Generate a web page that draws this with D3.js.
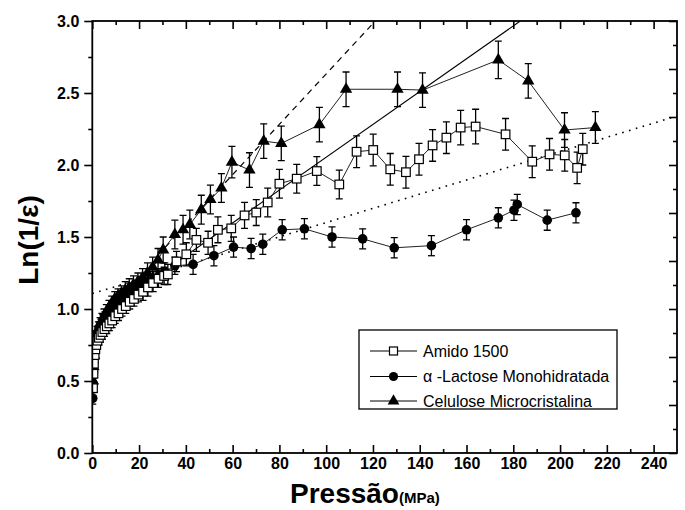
<!DOCTYPE html>
<html><head><meta charset="utf-8">
<script src="https://cdn.jsdelivr.net/npm/d3@7"></script>
<style>body{margin:0;background:#fff}svg{display:block}text{font-family:"Liberation Sans",Arial,sans-serif}</style>
</head><body><svg id="c" width="685" height="510"></svg>
<script>
// ---- data ----
const xTicks = [0,20,40,60,80,100,120,140,160,180,200,220,240];
const yTicks = [0.0,0.5,1.0,1.5,2.0,2.5,3.0];
const seriesNames = ["Amido 1500","\u03b1 -Lactose Monohidratada","Celulose Microcristalina"];

const amidoX = [0.3,0.5,0.7,1.0,1.3,1.7,2.2,2.8,3.5,4.3,5.2,6.2,7.3,8.5,9.8,11.2,12.7,14.3,16,17.8,19.7,21.7,23.8,26,28.3,30.7,32.3,36,40.2,44.5,49.5,53.7,59.4,65.1,70.1,75,80,87.4,96,105.6,113,120.1,127.4,134.1,139.7,145.5,151.4,157.5,163.9,176.7,188.1,195.5,202,207.3,209.7];
const amidoY = [0.45,0.55,0.62,0.68,0.72,0.75,0.78,0.80,0.82,0.84,0.86,0.88,0.90,0.92,0.95,0.97,1.00,1.02,1.05,1.07,1.10,1.12,1.15,1.18,1.21,1.23,1.24,1.33,1.38,1.48,1.46,1.55,1.56,1.65,1.67,1.74,1.87,1.905,1.958,1.865,2.092,2.104,1.97,1.95,2.04,2.136,2.19,2.26,2.267,2.213,2.023,2.074,2.067,1.98,2.11];
const amidoErr = [0.05,0.05,0.05,0.05,0.05,0.05,0.05,0.05,0.05,0.05,0.05,0.05,0.05,0.05,0.05,0.05,0.05,0.05,0.05,0.05,0.05,0.06,0.06,0.06,0.06,0.06,0.07,0.07,0.08,0.08,0.08,0.09,0.09,0.09,0.09,0.1,0.1,0.1,0.1,0.1,0.11,0.11,0.11,0.11,0.11,0.11,0.11,0.12,0.12,0.11,0.11,0.11,0.11,0.11,0.11];

const lactoseX = [0.2,0.35,0.5,0.7,0.9,1.2,1.5,1.9,2.4,3.0,3.7,4.5,5.4,6.4,7.5,8.7,10,11.4,12.9,14.5,16.2,18,19.9,21.9,24,26.2,28.5,31,35.3,43.1,52,60.4,67.9,72.9,81.2,90.7,102.5,115.6,129.1,145,160,173.6,180.3,181.7,194.5,206.8];
const lactoseY = [0.38,0.48,0.56,0.63,0.69,0.74,0.78,0.81,0.84,0.87,0.89,0.92,0.94,0.96,0.99,1.01,1.03,1.05,1.07,1.09,1.11,1.13,1.15,1.17,1.19,1.21,1.23,1.26,1.30,1.31,1.37,1.43,1.42,1.45,1.55,1.557,1.50,1.487,1.425,1.44,1.55,1.633,1.686,1.726,1.617,1.668];
const lactoseErr = [0.04,0.04,0.04,0.04,0.04,0.04,0.04,0.04,0.04,0.04,0.04,0.04,0.04,0.04,0.04,0.04,0.04,0.05,0.05,0.05,0.05,0.05,0.05,0.05,0.05,0.05,0.05,0.06,0.06,0.07,0.07,0.07,0.07,0.07,0.07,0.07,0.07,0.07,0.07,0.07,0.07,0.07,0.07,0.07,0.07,0.07];

const celuloseX = [0.3,0.5,0.8,1.1,1.5,2.0,2.6,3.3,4.1,5.0,6.0,7.1,8.3,9.6,11.0,12.5,14.1,15.8,17.6,19.5,21.5,23.6,25.8,28.1,30.3,35.3,38.8,41.7,46.6,50.5,55.2,59.7,67.2,73.3,80.8,97.1,108.5,130.5,141.2,173.6,186.4,201.9,215.1];
const celuloseY = [0.50,0.60,0.68,0.74,0.79,0.83,0.86,0.89,0.92,0.95,0.98,1.01,1.04,1.07,1.09,1.11,1.13,1.15,1.17,1.19,1.22,1.25,1.29,1.34,1.41,1.517,1.55,1.587,1.69,1.76,1.84,2.02,1.965,2.166,2.15,2.28,2.526,2.526,2.52,2.73,2.584,2.243,2.26];
const celuloseErr = [0.05,0.05,0.05,0.05,0.05,0.05,0.05,0.05,0.05,0.05,0.05,0.05,0.05,0.05,0.05,0.05,0.06,0.06,0.06,0.06,0.06,0.07,0.07,0.08,0.09,0.1,0.1,0.1,0.1,0.1,0.1,0.11,0.12,0.12,0.12,0.12,0.12,0.12,0.12,0.13,0.12,0.12,0.11];

const fitDashedX = [28,121], fitDashedY = [1.373,3.0];
const fitSolidX = [35,183], fitSolidY = [1.313,3.0];
const fitDottedX = [0,250], fitDottedY = [1.107,2.34];

// ---- chart ----
const svg = d3.select("#c");
const L=92.3,R=677,T=21,B=453;
const x = d3.scaleLinear().domain([0,250]).range([L,R]);
const y = d3.scaleLinear().domain([0,3]).range([B,T]);

svg.append("defs").append("clipPath").attr("id","clip").append("rect").attr("x",L).attr("y",T).attr("width",R-L).attr("height",B-T);
const plot = svg.append("g").attr("clip-path","url(#clip)");

const line = d3.line().x(d=>x(d[0])).y(d=>y(d[1]));
function fit(xs,ys,dash,w){
  plot.append("path").attr("d",line(xs.map((v,i)=>[v,ys[i]]))).attr("fill","none").attr("stroke","#000").attr("stroke-width",w).attr("stroke-dasharray",dash);
}
fit(fitDashedX,fitDashedY,"6,5",1.2);
fit(fitSolidX,fitSolidY,null,1.1);
fit(fitDottedX,fitDottedY,"1.6,5.5",1.6);

function series(xs,ys,es,kind){
  const pts = xs.map((v,i)=>[v,ys[i],es[i]]);
  const g = plot.append("g");
  g.append("path").attr("d",line(pts)).attr("fill","none").attr("stroke","#222").attr("stroke-width",1);
  pts.forEach(p=>{
    const cx=x(p[0]), y1=y(p[1]+p[2]), y2=y(p[1]-p[2]);
    g.append("line").attr("x1",cx).attr("x2",cx).attr("y1",y1).attr("y2",y2).attr("stroke","#000").attr("stroke-width",1.3);
    [y1,y2].forEach(yy=>g.append("line").attr("x1",cx-3.5).attr("x2",cx+3.5).attr("y1",yy).attr("y2",yy).attr("stroke","#000").attr("stroke-width",1.3));
  });
  pts.forEach(p=>{
    const cx=x(p[0]), cy=y(p[1]);
    if(kind==="sq") g.append("rect").attr("x",cx-4.3).attr("y",cy-4.3).attr("width",8.6).attr("height",8.6).attr("fill","#fff").attr("stroke","#000").attr("stroke-width",1.2);
    else if(kind==="ci") g.append("circle").attr("cx",cx).attr("cy",cy).attr("r",4.8).attr("fill","#000");
    else g.append("path").attr("d",d3.symbol(d3.symbolTriangle,66)()).attr("transform",`translate(${cx},${cy})`).attr("fill","#000");
  });
}
series(celuloseX,celuloseY,celuloseErr,"tr");
series(lactoseX,lactoseY,lactoseErr,"ci");
series(amidoX,amidoY,amidoErr,"sq");

// axes
const minorX = d3.range(10,250,20), minorY = d3.range(0.25,3,0.5);
const rightMajor = d3.range(0,10).map(k=>k/3), rightMinor = d3.range(0,9).map(k=>k/3+1/6);
function ax(gen,scale,vals,size,pos,labels){
  const a = gen(scale).tickValues(vals).tickSizeInner(size).tickSizeOuter(0).tickPadding(labels?5:0);
  if(!labels) a.tickFormat("");
  else a.tickFormat(labels);
  const g = svg.append("g").attr("transform",pos).call(a);
  g.select(".domain").remove();
  g.selectAll("line").attr("stroke","#000").attr("stroke-width",1.6);
  g.selectAll("text").attr("font-size",16).attr("font-weight","bold").attr("fill","#000").style("font-family","'Liberation Sans',Arial,sans-serif");
  return g;
}
ax(d3.axisBottom,x,xTicks,-8,`translate(0,${B})`,d=>d);
ax(d3.axisBottom,x,minorX,-4,`translate(0,${B})`,null);
ax(d3.axisTop,x,xTicks,-8,`translate(0,${T})`,null);
ax(d3.axisTop,x,minorX,-4,`translate(0,${T})`,null);
ax(d3.axisLeft,y,yTicks,8,`translate(${L},0)`,d3.format(".1f"));
ax(d3.axisLeft,y,minorY,4,`translate(${L},0)`,null);
ax(d3.axisRight,y,rightMajor,-8,`translate(${R},0)`,null);
ax(d3.axisRight,y,rightMinor,-4,`translate(${R},0)`,null);

svg.append("rect").attr("x",L).attr("y",T).attr("width",R-L).attr("height",B-T).attr("fill","none").attr("stroke","#000").attr("stroke-width",1.8);

// titles
svg.append("text").attr("transform","translate(38,240) rotate(-90)").attr("text-anchor","middle").attr("font-size",28).attr("font-weight","bold").text("Ln(1/\u03b5)");
const xt = svg.append("text").attr("x",290).attr("y",503).attr("font-weight","bold");
xt.append("tspan").attr("font-size",28).text("Pressão");
xt.append("tspan").attr("font-size",15).text("(MPa)");

// legend
const lg = svg.append("g");
lg.append("rect").attr("x",359).attr("y",330).attr("width",258).attr("height",79).attr("fill","#fff").attr("stroke","#000").attr("stroke-width",1.3);
const kinds=["sq","ci","tr"], rowsY=[351,376.5,401];
seriesNames.forEach((n,i)=>{
  const cy=rowsY[i];
  lg.append("line").attr("x1",370).attr("x2",417).attr("y1",cy).attr("y2",cy).attr("stroke","#000").attr("stroke-width",1);
  const cx=393.5;
  if(kinds[i]==="sq") lg.append("rect").attr("x",cx-4).attr("y",cy-4).attr("width",8).attr("height",8).attr("fill","#fff").attr("stroke","#000").attr("stroke-width",1.2);
  else if(kinds[i]==="ci") lg.append("circle").attr("cx",cx).attr("cy",cy).attr("r",4.6).attr("fill","#000");
  else lg.append("path").attr("d",d3.symbol(d3.symbolTriangle,60)()).attr("transform",`translate(${cx},${cy})`).attr("fill","#000");
  lg.append("text").attr("x",423).attr("y",cy+5.5).attr("font-size",16).text(n);
});
</script></body></html>
